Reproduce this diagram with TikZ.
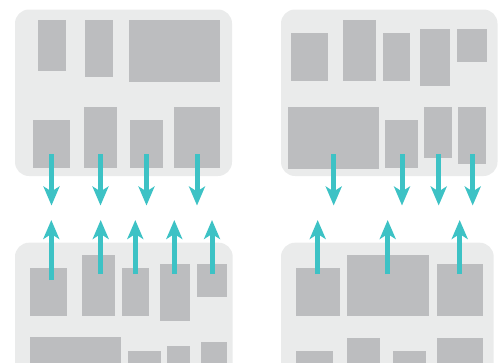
\documentclass[tikz,border=0pt]{standalone}
\usetikzlibrary{arrows.meta}
\definecolor{panelgray}{HTML}{EAEBEB}
\definecolor{blockgray}{HTML}{BCBDBF}
\definecolor{teal}{HTML}{3DC2C5}
\tikzset{
  panel/.style={fill=panelgray, rounded corners=14pt},
  block/.style={fill=blockgray},
  flow/.style={draw=teal, line width=5pt, -{Stealth[length=19pt,width=16pt,inset=5pt]}}
}
\begin{document}
\begin{tikzpicture}[x=1pt,y=-1pt]
\useasboundingbox (0,0) rectangle (498,362);
\clip (0,0) rectangle (498,362);
% panels
\fill[panel] (15,9.5) rectangle (232,176);
\fill[panel] (281,9.5) rectangle (497.5,176);
\fill[panel] (15,242.7) rectangle (232.7,400);
\fill[panel] (281,242.7) rectangle (493.7,400);
% top-left blocks
\fill[block] (38,20) rectangle (66,71);
\fill[block] (85,20) rectangle (113,77);
\fill[block] (129,20) rectangle (220,82);
\fill[block] (33,120) rectangle (70,168);
\fill[block] (84,107) rectangle (117,168);
\fill[block] (130,120) rectangle (163,168);
\fill[block] (174,107) rectangle (220,168);
% top-right blocks
\fill[block] (291,33) rectangle (328,81);
\fill[block] (343,20) rectangle (376,81);
\fill[block] (383,33) rectangle (410,81);
\fill[block] (420,29) rectangle (450,86);
\fill[block] (457,29) rectangle (487,62);
\fill[block] (288,107) rectangle (379,169);
\fill[block] (385,120) rectangle (418,168);
\fill[block] (424,107) rectangle (452,158);
\fill[block] (458,107) rectangle (486,164);
% bottom-left blocks
\fill[block] (30,268) rectangle (67,316);
\fill[block] (82,255) rectangle (115,316);
\fill[block] (122,268) rectangle (149,316);
\fill[block] (160,264) rectangle (190,321);
\fill[block] (197,264) rectangle (227,297);
\fill[block] (30,337) rectangle (121,370);
\fill[block] (128,351) rectangle (161,370);
\fill[block] (167,346) rectangle (190,370);
\fill[block] (201,342) rectangle (227,370);
% bottom-right blocks
\fill[block] (296,268) rectangle (340,316);
\fill[block] (347,255) rectangle (429,316);
\fill[block] (437,264) rectangle (483,316);
\fill[block] (296,351) rectangle (333,370);
\fill[block] (347,338) rectangle (380,370);
\fill[block] (393,351) rectangle (426,370);
\fill[block] (437,338) rectangle (483,370);
% arrow coordinates
\coordinate (d1s) at (51.5,154); \coordinate (d1e) at (51.5,205.5);
\coordinate (d2s) at (100.5,154); \coordinate (d2e) at (100.5,205.5);
\coordinate (d3s) at (146.5,154); \coordinate (d3e) at (146.5,205.5);
\coordinate (d4s) at (197,154); \coordinate (d4e) at (197,205.5);
\coordinate (d5s) at (333.7,154); \coordinate (d5e) at (333.7,205.5);
\coordinate (d6s) at (402,154); \coordinate (d6e) at (402,205.5);
\coordinate (d7s) at (438.7,154); \coordinate (d7e) at (438.7,205.5);
\coordinate (d8s) at (472.7,154); \coordinate (d8e) at (472.7,205.5);
\coordinate (u1s) at (51.3,280); \coordinate (u1e) at (51.3,220);
\coordinate (u2s) at (100.7,274); \coordinate (u2e) at (100.7,220);
\coordinate (u3s) at (135.3,274); \coordinate (u3e) at (135.3,220);
\coordinate (u4s) at (174.3,274); \coordinate (u4e) at (174.3,220);
\coordinate (u5s) at (212,274); \coordinate (u5e) at (212,220);
\coordinate (u6s) at (317.7,274); \coordinate (u6e) at (317.7,220);
\coordinate (u7s) at (387.7,274); \coordinate (u7e) at (387.7,220);
\coordinate (u8s) at (459.7,274); \coordinate (u8e) at (459.7,220);
\foreach \i in {1,...,8} {
  \draw[flow] (d\i s) -- (d\i e);
  \draw[flow] (u\i s) -- (u\i e);
}
\end{tikzpicture}
\end{document}
